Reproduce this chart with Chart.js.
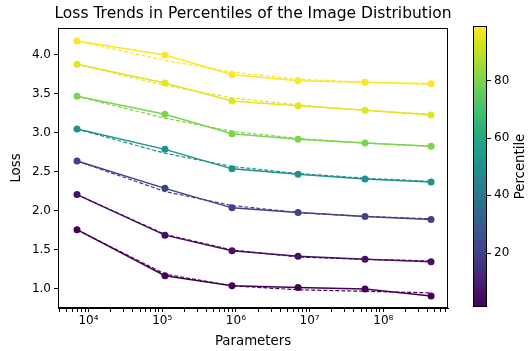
<!DOCTYPE html>
<html>
<head>
<meta charset="utf-8">
<script src="https://cdn.jsdelivr.net/npm/chart.js@4/dist/chart.umd.min.js"></script>
<style>
  html, body { margin: 0; padding: 0; background: #fff; }
  #wrap { width: 528px; height: 351px; position: relative; }
</style>
</head>
<body>
<div id="wrap"><canvas id="lossChart" width="528" height="351"></canvas></div>
<script>
// model sizes (x) and losses per percentile, top line first
const params = [6980, 1.09e5, 8.85e5, 6.97e6, 5.65e7, 4.45e8];
const percentiles = [99, 95, 80, 50, 20, 5, 1];
const lossP99 = [4.18, 4.00, 3.75, 3.67, 3.65, 3.63];
const lossP95 = [3.88, 3.64, 3.41, 3.35, 3.29, 3.23];
const lossP80 = [3.47, 3.24, 2.99, 2.92, 2.87, 2.83];
const lossP50 = [3.05, 2.79, 2.54, 2.47, 2.41, 2.37];
const lossP20 = [2.64, 2.29, 2.04, 1.98, 1.93, 1.89];
const lossP5  = [2.21, 1.69, 1.49, 1.42, 1.38, 1.35];
const lossP1  = [1.76, 1.17, 1.04, 1.02, 1.00, 0.91];
// power-law fits (dashed)
const fitP99 = [4.18, 3.93, 3.78, 3.69, 3.65, 3.62];
const fitP95 = [3.88, 3.61, 3.45, 3.36, 3.29, 3.24];
const fitP80 = [3.47, 3.19, 3.02, 2.93, 2.87, 2.83];
const fitP50 = [3.05, 2.74, 2.57, 2.48, 2.42, 2.38];
const fitP20 = [2.64, 2.25, 2.07, 1.98, 1.93, 1.90];
const fitP5  = [2.21, 1.70, 1.50, 1.41, 1.38, 1.36];
const fitP1  = [1.76, 1.19, 1.04, 0.99, 0.97, 0.95];
const yTicks = [1.0, 1.5, 2.0, 2.5, 3.0, 3.5, 4.0];
const cbarTicks = [20, 40, 60, 80];

const losses = [lossP99, lossP95, lossP80, lossP50, lossP20, lossP5, lossP1];
const fits = [fitP99, fitP95, fitP80, fitP50, fitP20, fitP5, fitP1];

const viridis = ['#440154', '#482475', '#414487', '#355f8d', '#2a788e', '#21918c',
  '#22a884', '#44bf70', '#7ad151', '#bddf26', '#fde725'];
const pMin = 1, pMax = 99;

function hexToRgb(h) {
  return [parseInt(h.slice(1, 3), 16), parseInt(h.slice(3, 5), 16), parseInt(h.slice(5, 7), 16)];
}
function viridisAt(t) {
  t = Math.max(0, Math.min(1, t));
  const pos = t * (viridis.length - 1);
  const i = Math.min(Math.floor(pos), viridis.length - 2);
  const f = pos - i;
  const a = hexToRgb(viridis[i]), b = hexToRgb(viridis[i + 1]);
  const c = a.map((v, k) => Math.round(v + (b[k] - v) * f));
  return 'rgb(' + c.join(',') + ')';
}
const colorFor = p => viridisAt((p - pMin) / (pMax - pMin));

const datasets = [];
percentiles.forEach((p, i) => {
  const col = colorFor(p);
  datasets.push({
    label: 'P' + p,
    data: params.map((x, j) => ({ x: x, y: losses[i][j] })),
    borderColor: col,
    backgroundColor: col,
    borderWidth: 1.5,
    pointRadius: 3.5,
    pointHoverRadius: 3.5,
    pointBorderWidth: 0
  });
  datasets.push({
    label: 'fit P' + p,
    data: params.map((x, j) => ({ x: x, y: fits[i][j] })),
    borderColor: col,
    borderWidth: 1.2,
    borderDash: [4, 2],
    pointRadius: 0
  });
});

const xMin = 3855, xMax = 7.55e8;
const supers = { '0': '⁰', '1': '¹', '2': '²', '3': '³', '4': '⁴', '5': '⁵', '6': '⁶', '7': '⁷', '8': '⁸', '9': '⁹' };

const extras = {
  id: 'extras',
  afterDraw(chart) {
    const ctx = chart.ctx, a = chart.chartArea;
    ctx.save();
    // box around the plot
    ctx.strokeStyle = '#000';
    ctx.lineWidth = 1;
    ctx.strokeRect(a.left + 0.5, a.top + 0.5, a.right - a.left - 1, a.bottom - a.top - 1);
    // title
    ctx.fillStyle = '#000';
    ctx.font = '15.5px "DejaVu Sans"';
    ctx.textAlign = 'center';
    ctx.textBaseline = 'middle';
    ctx.fillText('Loss Trends in Percentiles of the Image Distribution', (a.left + a.right) / 2, 14);
    // colorbar
    const cx = 473, cw = 14, top = 26, bot = 307;
    const g = ctx.createLinearGradient(0, bot, 0, top);
    viridis.forEach((c, i) => g.addColorStop(i / (viridis.length - 1), c));
    ctx.fillStyle = g;
    ctx.fillRect(cx, top, cw, bot - top);
    ctx.strokeRect(cx + 0.5, top + 0.5, cw - 1, bot - top - 1);
    ctx.font = '12px "DejaVu Sans"';
    ctx.textAlign = 'left';
    ctx.fillStyle = '#000';
    cbarTicks.forEach(v => {
      const y = bot - (v - pMin) / (pMax - pMin) * (bot - top);
      ctx.beginPath();
      ctx.moveTo(cx + cw, Math.round(y) + 0.5);
      ctx.lineTo(cx + cw + 4, Math.round(y) + 0.5);
      ctx.stroke();
      ctx.fillText(String(v), cx + cw + 7, y);
    });
    ctx.font = '13.3px "DejaVu Sans"';
    ctx.translate(521, (top + bot) / 2);
    ctx.rotate(-Math.PI / 2);
    ctx.textAlign = 'center';
    ctx.fillText('Percentile', 0, 0);
    ctx.restore();
  }
};

new Chart(document.getElementById('lossChart'), {
  type: 'line',
  data: { datasets: datasets },
  options: {
    responsive: false,
    animation: false,
    layout: { padding: { top: 28, right: 80, left: 0, bottom: 0 } },
    plugins: { legend: { display: false }, tooltip: { enabled: false }, title: { display: false } },
    scales: {
      x: {
        type: 'logarithmic',
        min: xMin,
        max: xMax,
        afterBuildTicks(scale) {
          const t = [];
          for (let k = 3; k <= 8; k++) {
            for (let m = 1; m <= 9; m++) {
              const v = m * Math.pow(10, k);
              if (v >= xMin && v <= xMax) t.push({ value: v, major: m === 1 });
            }
          }
          scale.ticks = t;
        },
        afterFit(scale) { scale.height = 43; },
        grid: { drawOnChartArea: false, drawTicks: true, tickLength: 4, color: '#000' },
        border: { color: '#000' },
        ticks: {
          autoSkip: false,
          maxRotation: 0,
          padding: 2,
          color: '#000',
          font: { family: 'DejaVu Sans', size: 12 },
          callback(v) {
            const e = Math.log10(v);
            if (Math.abs(e - Math.round(e)) < 1e-9) {
              return '10' + String(Math.round(e)).split('').map(d => supers[d]).join('');
            }
            return '';
          }
        },
        title: {
          display: true, text: 'Parameters', color: '#000',
          font: { family: 'DejaVu Sans', size: 13.3 }, padding: { top: 0, bottom: 1 }
        }
      },
      y: {
        type: 'linear',
        min: 0.756,
        max: 4.346,
        afterBuildTicks(scale) { scale.ticks = yTicks.map(v => ({ value: v })); },
        afterFit(scale) { scale.width = 58; },
        grid: { drawOnChartArea: false, drawTicks: true, tickLength: 4, color: '#000' },
        border: { color: '#000' },
        ticks: {
          padding: 3,
          color: '#000',
          font: { family: 'DejaVu Sans', size: 12 },
          callback: v => Number(v).toFixed(1)
        },
        title: {
          display: true, text: 'Loss', color: '#000',
          font: { family: 'DejaVu Sans', size: 13.3 }, padding: { top: 9, bottom: 0 }
        }
      }
    }
  },
  plugins: [extras]
});
</script>
</body>
</html>
